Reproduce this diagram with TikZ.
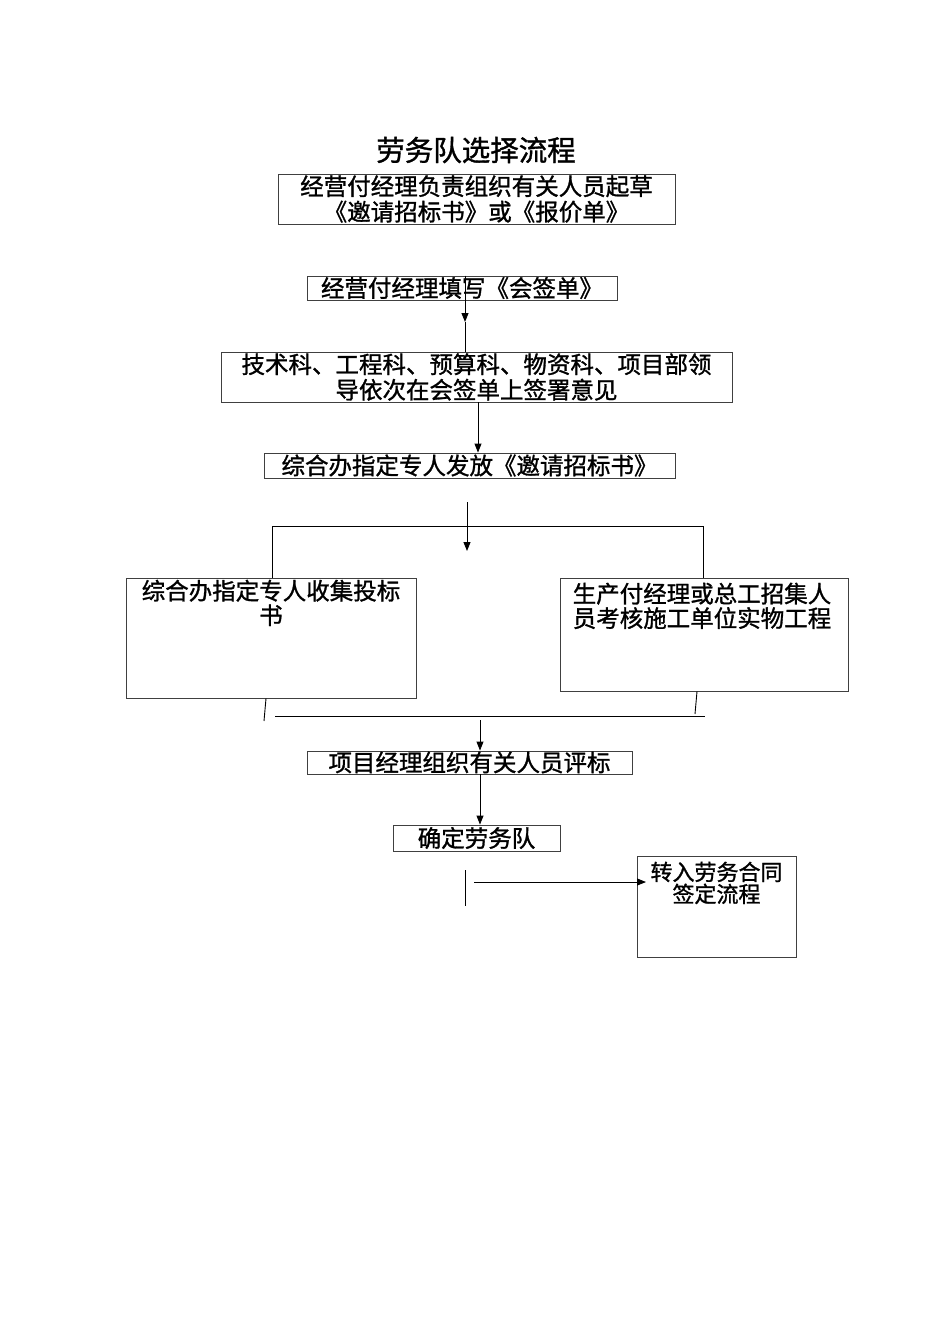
\documentclass[tikz,border=0pt]{standalone}
\usepackage{fontspec}
\setmainfont{Noto Sans CJK SC}[FakeBold=1.2]
\usetikzlibrary{arrows.meta}
\begin{document}
\begin{tikzpicture}[x=1pt,y=-1pt,
  box/.style={draw=black!75, line width=0.9pt, rectangle, inner sep=0pt, align=center, font=\fontsize{23.5}{25.5}\selectfont},
  boxtxt/.style={anchor=north, inner sep=2pt, font=\fontsize{23.5}{24.5}\selectfont},
  conn/.style={line width=0.9pt, black},
  arr/.style={conn, -{Triangle[length=9pt,width=7pt]}},
]
\useasboundingbox (0,0) rectangle (950,1344);

\node[font=\fontsize{28.5}{30}\selectfont, inner sep=0pt] (title) at (476,150) {劳务队选择流程};

\node[box, minimum width=397pt, minimum height=50pt] (b1) at (476.5,199) {经营付经理负责组织有关人员起草\\《邀请招标书》或《报价单》};
\node[box, minimum width=310pt, minimum height=24pt] (b2) at (462,288) {经营付经理填写《会签单》};
\node[box, minimum width=511pt, minimum height=50pt] (b3) at (476.5,377) {技术科、工程科、预算科、物资科、项目部领\\导依次在会签单上签署意见};
\node[box, minimum width=411pt, minimum height=25pt] (b4) at (469.5,465.5) {综合办指定专人发放《邀请招标书》};
\node[box, minimum width=290pt, minimum height=120pt,
  label={[boxtxt, align=center]north:综合办指定专人收集投标\\书}] (b5) at (271,638) {};
\node[box, minimum width=288pt, minimum height=113pt,
  label={[boxtxt, align=left, inner sep=5pt, xshift=-2pt]north:生产付经理或总工招集人\\员考核施工单位实物工程}] (b6) at (704,634.5) {};
\node[box, minimum width=325pt, minimum height=23pt] (b7) at (469.5,762.5) {项目经理组织有关人员评标};
\node[box, minimum width=167pt, minimum height=26pt] (b8) at (476.5,838) {确定劳务队};
\node[box, minimum width=159pt, minimum height=101pt,
  label={[boxtxt, align=center, inner sep=6pt, font=\fontsize{22}{22}\selectfont]north:转入劳务合同\\签定流程}] (b9) at (716.5,906.5) {};

% arrow 1
\coordinate (a1) at (465,322);
\draw[arr] (b2.north -| a1) -- (a1);
\draw[conn] (a1) -- (a1 |- b3.north);
% arrow 2
\coordinate (x2) at (478,420);
\draw[arr] (b3.south -| x2) -- (b4.north -| x2);
% arrow 3 (free)
\coordinate (s3) at (467,502);
\coordinate (e3) at (467,551);
\draw[arr] (s3) -- (e3);
% split line
\coordinate (sl) at (272,526);
\coordinate (sr) at (703,526);
\draw[conn] (sl) -- (sr);
\draw[conn] (sl) -- (sl |- b5.north);
\draw[conn] (sr) -- (sr |- b6.north);
% join lines
\coordinate (l5) at (266,698);
\coordinate (jl) at (264,721);
\draw[conn] (b5.south -| l5) -- (jl);
\coordinate (l6) at (697,691);
\coordinate (jr) at (695,714);
\draw[conn] (b6.south -| l6) -- (jr);
\coordinate (ml) at (275,716);
\coordinate (mr) at (705,716);
\draw[conn] (ml) -- (mr);
\coordinate (x7) at (480,720);
\draw[arr] (x7) -- (x7 |- b7.north);
% arrow 4
\draw[arr] (b7.south -| x7) -- (b8.north -| x7);
% short vertical and arrow 5
\coordinate (v1) at (465,870);
\coordinate (v2) at (465,906);
\draw[conn] (v1) -- (v2);
\coordinate (s5) at (474,882);
\coordinate (t5) at (646,882);
\draw[arr] (s5) -- (t5);
\end{tikzpicture}
\end{document}
